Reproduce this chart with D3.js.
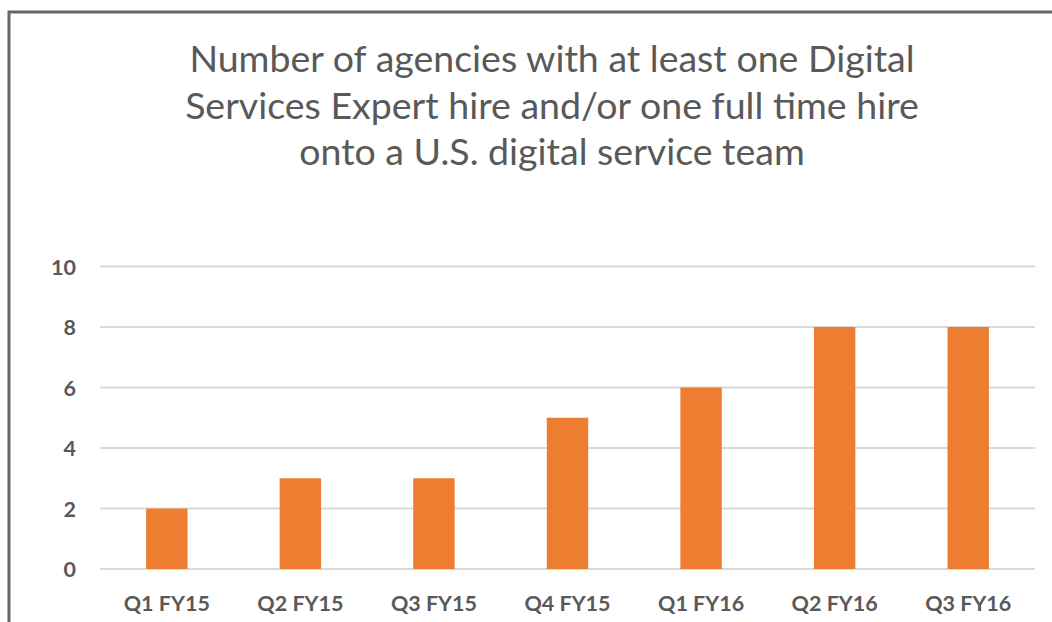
<!DOCTYPE html>
<html lang="en">
<head>
    <meta charset="UTF-8">
    <title>Digital service hires</title>
    <script src="https://cdn.jsdelivr.net/npm/d3@7"></script>
    <style>
        body{ margin:0; background:#fff; }
        .titulo{
            font-family: Lato, 'Open Sans', sans-serif;
            font-size: 37.5px;
            fill: #595959;
        }
        .eje text{
            font-family: Lato, 'Open Sans', sans-serif;
            font-weight: 700;
            font-size: 21.5px;
            fill: #595959;
        }
    </style>
</head>
<body>
<div id="grafico"></div>
<script>
var categorias = ["Q1 FY15", "Q2 FY15", "Q3 FY15", "Q4 FY15", "Q1 FY16", "Q2 FY16", "Q3 FY16"];
var valores = [2, 3, 3, 5, 6, 8, 8];
var ticksY = [0, 2, 4, 6, 8, 10];
var lineasTitulo = [
    "Number of agencies with at least one Digital",
    "Services Expert hire and/or one full time hire",
    "onto a U.S. digital service team"
];

var w = 1052, h = 622;
var margen = {left: 100, right: 17, top: 266.5, bottom: 53};

var svg = d3.select("#grafico").append("svg")
    .attr("width", w)
    .attr("height", h);

// marco gris del recorte
svg.append("path")
    .attr("d", "M9,622 V12 H1052")
    .attr("fill", "none")
    .attr("stroke", "#666")
    .attr("stroke-width", 3);

var xScale = d3.scaleBand()
    .domain(categorias)
    .range([margen.left, w - margen.right])
    .paddingInner(0.69)
    .paddingOuter(0.345);

var yScale = d3.scaleLinear()
    .domain([0, 10])
    .range([h - margen.bottom, margen.top]);

// titulo
svg.selectAll(".titulo")
    .data(lineasTitulo)
    .enter()
    .append("text")
    .classed("titulo", true)
    .attr("x", 552)
    .attr("y", function(d, i){ return 72 + i * 46.5; })
    .attr("text-anchor", "middle")
    .text(function(d){ return d; });

// rejilla
svg.append("g")
    .selectAll("line")
    .data(ticksY)
    .enter()
    .append("line")
    .attr("x1", margen.left)
    .attr("x2", w - margen.right)
    .attr("y1", function(d){ return yScale(d); })
    .attr("y2", function(d){ return yScale(d); })
    .attr("stroke", "#d9d9d9")
    .attr("stroke-width", 2);

// barras
svg.append("g")
    .selectAll("rect")
    .data(valores)
    .enter()
    .append("rect")
    .attr("x", function(d, i){ return xScale(categorias[i]); })
    .attr("width", xScale.bandwidth())
    .attr("y", function(d){ return yScale(d); })
    .attr("height", function(d){ return yScale(0) - yScale(d); })
    .attr("fill", "#ED7D31");

// eje y
var ejeY = svg.append("g")
    .attr("class", "eje")
    .attr("transform", "translate(76,0)")
    .call(d3.axisLeft(yScale).tickValues(ticksY).tickSize(0).tickPadding(0));
ejeY.select(".domain").remove();
ejeY.selectAll("text").attr("dy", "0.36em");

// eje x
var ejeX = svg.append("g")
    .attr("class", "eje")
    .attr("transform", "translate(0," + (h - margen.bottom) + ")")
    .call(d3.axisBottom(xScale).tickSize(0).tickPadding(26.5));
ejeX.select(".domain").remove();
</script>
</body>
</html>
